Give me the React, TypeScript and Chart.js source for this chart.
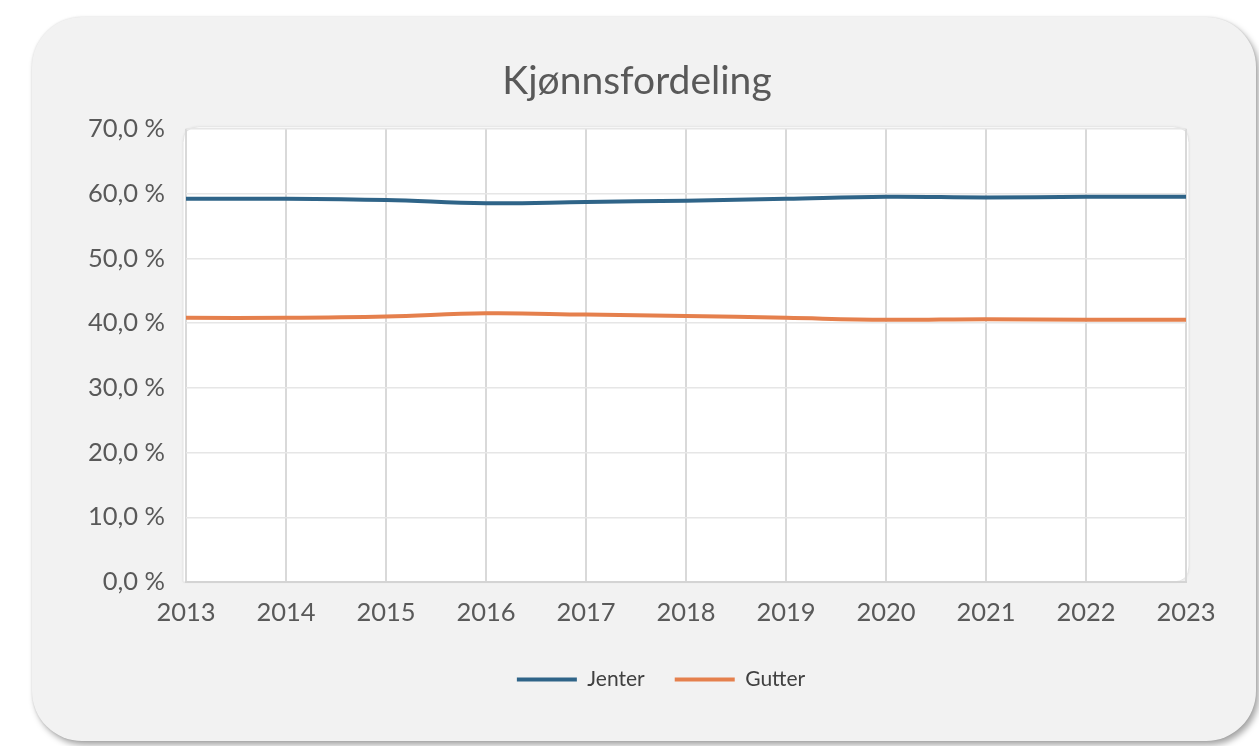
import React, { useEffect, useRef } from "react";
import { Chart, registerables } from "chart.js";

Chart.register(...registerables);

const years = ["2013", "2014", "2015", "2016", "2017", "2018", "2019", "2020", "2021", "2022", "2023"];
const jenter = [59.2, 59.2, 59.0, 58.5, 58.7, 58.9, 59.2, 59.5, 59.4, 59.5, 59.5];
const gutter = [40.8, 40.8, 41.0, 41.5, 41.3, 41.1, 40.8, 40.5, 40.6, 40.5, 40.5];
const yTickLabels = ["0,0 %", "10,0 %", "20,0 %", "30,0 %", "40,0 %", "50,0 %", "60,0 %", "70,0 %"];

const plotBg = {
  id: "plotBg",
  afterLayout(chart: any) {
    if (chart.legend) {
      chart.legend.left += 24;
      chart.legend.right += 24;
    }
  },
  beforeDraw(chart: any) {
    const { ctx, chartArea } = chart;
    const x = chartArea.left - 3;
    const y = chartArea.top - 2;
    const w = chartArea.right - chartArea.left + 6;
    const h = chartArea.bottom - chartArea.top + 2;
    const r = 16;
    ctx.save();
    ctx.beginPath();
    ctx.moveTo(x + r, y);
    ctx.lineTo(x + w - r, y);
    ctx.quadraticCurveTo(x + w, y, x + w, y + r);
    ctx.lineTo(x + w, y + h - r);
    ctx.quadraticCurveTo(x + w, y + h, x + w - r, y + h);
    ctx.lineTo(x, y + h);
    ctx.lineTo(x, y + r);
    ctx.quadraticCurveTo(x, y, x + r, y);
    ctx.closePath();
    ctx.shadowColor = "rgba(0,0,0,0.08)";
    ctx.shadowBlur = 3;
    ctx.fillStyle = "#ffffff";
    ctx.fill();
    ctx.shadowColor = "transparent";
    ctx.strokeStyle = "#e4e4e4";
    ctx.lineWidth = 1;
    ctx.stroke();
    ctx.restore();
  },
};

export default function App() {
  const ref = useRef<HTMLCanvasElement | null>(null);
  useEffect(() => {
    if (!ref.current) return;
    const chart = new Chart(ref.current, {
      type: "line",
      data: {
        labels: years,
        datasets: [
          {
            label: "Jenter",
            data: jenter,
            borderColor: "#2f6488",
            backgroundColor: "#2f6488",
            borderWidth: 4,
            pointRadius: 0,
            tension: 0.4,
          },
          {
            label: "Gutter",
            data: gutter,
            borderColor: "#e5804d",
            backgroundColor: "#e5804d",
            borderWidth: 4,
            pointRadius: 0,
            tension: 0.4,
          },
        ],
      },
      options: {
        animation: false,
        responsive: false,
        layout: { padding: { left: 88, right: 73, top: 0, bottom: 46 } },
        plugins: {
          title: {
            display: true,
            text: "Kjønnsfordeling",
            color: "#595959",
            font: { family: "Lato", size: 39, weight: "normal" },
            padding: { top: 58, bottom: 24 },
          },
          legend: {
            display: true,
            position: "bottom",
            labels: {
              usePointStyle: true,
              pointStyle: "line",
              pointStyleWidth: 60,
              color: "#404040",
              font: { family: "Lato", size: 21 },
              padding: 30,
            },
          },
          tooltip: { enabled: false },
        },
        scales: {
          x: {
            offset: false,
            grid: { color: "#d9d9d9", lineWidth: 2, drawTicks: false },
            border: { color: "#d4d4d4", width: 2 },
            ticks: {
              color: "#595959",
              font: { family: "Lato", size: 25.5 },
              padding: 15,
              maxRotation: 0,
            },
            afterFit: (s: any) => {
              s.height = 57;
            },
          },
          y: {
            min: 0,
            max: 70,
            grid: { color: "#e6e6e6", lineWidth: 1.5, drawTicks: false },
            border: { display: false },
            ticks: {
              stepSize: 10,
              color: "#595959",
              font: { family: "Lato", size: 25.5 },
              padding: 21,
              callback: (_v: any, i: number) => yTickLabels[i],
            },
            afterFit: (s: any) => {
              s.width = 98;
            },
          },
        },
      },
      plugins: [plotBg],
    });
    return () => chart.destroy();
  }, []);

  return (
    <div style={{ position: "fixed", left: 0, top: 0, width: 1259, height: 746, background: "#ffffff", overflow: "hidden" }}>
      <div
        style={{
          position: "absolute",
          left: 32,
          top: 17,
          width: 1224,
          height: 724,
          borderRadius: 50,
          background: "#f2f2f2",
          boxShadow: "3px 4px 6px rgba(0,0,0,0.35), 0 0 2px rgba(0,0,0,0.12)",
        }}
      />
      <canvas ref={ref} width={1259} height={746} style={{ position: "absolute", left: 0, top: 0 }} />
    </div>
  );
}
